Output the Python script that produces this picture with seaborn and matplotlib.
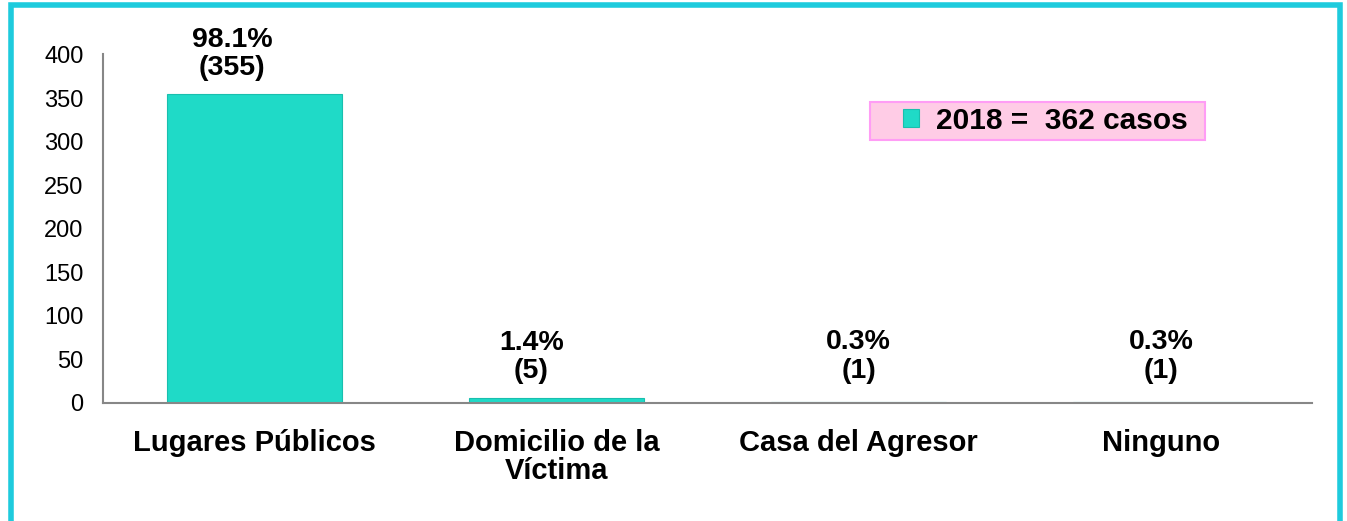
"""
Lugar de ocurrencia de los casos, 2018 (bar chart recreation).
"""

import matplotlib
import matplotlib.pyplot as plt
import pandas as pd
import seaborn as sns
from matplotlib.patches import Patch, Rectangle

matplotlib.use("Agg")

# ── Data ──────────────────────────────────────────────────────────────────────

categories = ["Lugares Públicos", "Domicilio de la\nVíctima", "Casa del Agresor", "Ninguno"]
counts = [355, 5, 1, 1]
percents = ["98.1%", "1.4%", "0.3%", "0.3%"]
year = "2018"
total_cases = 362
y_ticks = [0, 50, 100, 150, 200, 250, 300, 350, 400]

BAR_COLOR = "#1FDAC7"
BAR_EDGE = "#19BFAE"
FRAME_COLOR = "#1ECBDD"
SPINE_COLOR = "#878787"

sns.set_theme(style="white")
plt.rcParams["font.family"] = ["Liberation Sans", "DejaVu Sans"]
plt.rcParams["text.color"] = "black"
plt.rcParams["xtick.color"] = "black"
plt.rcParams["ytick.color"] = "black"

df = pd.DataFrame({"lugar": categories, "casos": counts})

# ── Figure ────────────────────────────────────────────────────────────────────

fig = plt.figure(figsize=(13.47, 5.21), dpi=100)
ax = fig.add_axes([0.0765, 0.2274, 0.8975, 0.668])

sns.barplot(
    data=df,
    x="lugar",
    y="casos",
    color=BAR_COLOR,
    width=0.58,
    saturation=1,
    edgecolor=BAR_EDGE,
    linewidth=0.8,
    ax=ax,
)

ax.set_xlim(-0.5, 3.5)
ax.set_ylim(0, 400)
ax.set_yticks(y_ticks)
ax.set_xlabel("")
ax.set_ylabel("")
ax.tick_params(axis="y", length=0, pad=14, labelsize=17, labelcolor="black")
ax.tick_params(axis="x", length=0, pad=19, labelsize=21, labelcolor="black")
for lbl in ax.get_xticklabels():
    lbl.set_fontweight("bold")
    lbl.set_linespacing(1.0)

for side in ["top", "right"]:
    ax.spines[side].set_visible(False)
for side in ["left", "bottom"]:
    ax.spines[side].set_color(SPINE_COLOR)
    ax.spines[side].set_linewidth(1.5)

# value labels above the bars
label_dx = [-16, -18, 0, 0]
label_dy = [9, 10, 13, 13]
for i, (cnt, pct) in enumerate(zip(counts, percents)):
    ax.annotate(
        f"{pct}\n({cnt})",
        xy=(i, cnt),
        xytext=(label_dx[i], label_dy[i]),
        textcoords="offset points",
        ha="center",
        va="bottom",
        fontsize=20.5,
        fontweight="bold",
        color="black",
        linespacing=1.12,
    )

# legend box: pink panel drawn behind a frameless legend
panel = Rectangle(
    (870 / 1347, 1 - 140 / 521),
    335 / 1347,
    38 / 521,
    transform=fig.transFigure,
    facecolor="#FFCCE6",
    edgecolor="#FF9DF5",
    linewidth=1.5,
    zorder=2,
    clip_on=False,
)
ax.add_patch(panel)

handle = Patch(facecolor=BAR_COLOR, edgecolor=BAR_EDGE, linewidth=0.8)
leg = ax.legend(
    [handle],
    [f"{year} =  {total_cases} casos"],
    loc="center left",
    bbox_to_anchor=(903 / 1347, 1 - 121 / 521),
    bbox_transform=fig.transFigure,
    prop={"size": 21.5, "weight": "bold"},
    frameon=False,
    handlelength=0.55,
    handleheight=0.55,
    handletextpad=0.55,
    borderpad=0,
    borderaxespad=0,
)
leg.set_zorder(6)

# outer cyan frame (open at the bottom)
fig.add_artist(
    Rectangle(
        (10.5 / 1347, -0.05),
        (1340 - 10.5) / 1347,
        1.05 - 5 / 521,
        transform=fig.transFigure,
        fill=False,
        edgecolor=FRAME_COLOR,
        linewidth=4,
        clip_on=False,
    )
)

fig.savefig("out.png", dpi=100, facecolor="white")
plt.close(fig)
